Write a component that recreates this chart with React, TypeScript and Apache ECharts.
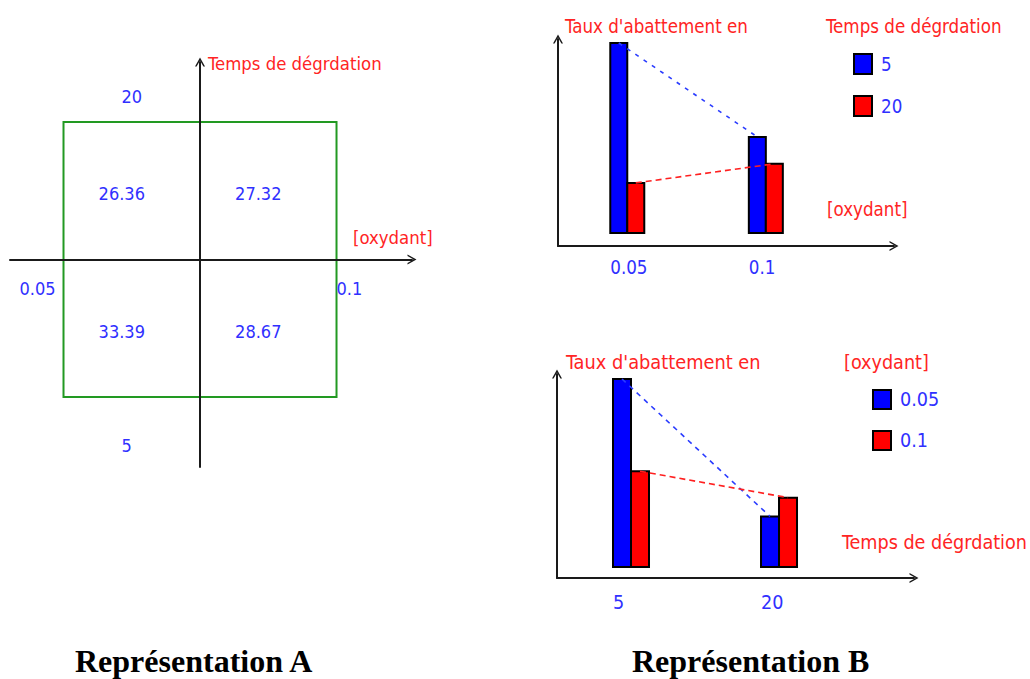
import React, { useEffect, useRef } from 'react';
import * as echarts from 'echarts';

// ---------------- data ----------------
const oxydantLevels = ['0.05', '0.1'];
const tempsLevels = ['5', '20'];
const codedLevels = [-1, 1];
// Taux d'abattement, indexed by oxydant level (0.05, 0.1)
const tauxTemps5 = [33.39, 28.67];
const tauxTemps20 = [26.36, 27.32];
// Taux d'abattement, indexed by temps level (5, 20)
const tauxOx005 = [33.39, 26.36];
const tauxOx01 = [28.67, 27.32];

const nameTemps = 'Temps de dégrdation';
const nameOx = '[oxydant]';
const nameTaux = "Taux d'abattement en";
const titleA = 'Représentation A';
const titleB = 'Représentation B';

// ---------------- styles ----------------
const FONT = '"DejaVu Sans Condensed", "DejaVu Sans", sans-serif';
const RED_TXT = '#ff2424';
const BLUE_TXT = '#3030ff';
const BAR_BLUE = '#0000ff';
const BAR_RED = '#ff0000';
const GREEN = '#229922';
const AXIS = '#1a1a1a';
const CHEV = 'path://M0,9 L5,0 L10,9 L8.4,9 L5,2.9 L1.6,9 Z';

function barSeries(name: string, values: number[], idx: number, color: string, side: number, bw: number, lift: number) {
  return {
    type: 'custom',
    name,
    xAxisIndex: idx,
    yAxisIndex: idx,
    z: 3,
    itemStyle: { color, borderColor: '#000', borderWidth: 2 },
    encode: { x: 0, y: 1 },
    data: values.map((v, i) => [1 + 2 * i, v]),
    renderItem: (params: any, api: any) => {
      const p = api.coord([api.value(0), api.value(1)]);
      const cs = params.coordSys;
      const bottom = cs.y + cs.height - lift;
      const x0 = side < 0 ? p[0] - bw : p[0];
      return {
        type: 'rect',
        shape: { x: x0, y: p[1], width: bw, height: bottom - p[1] },
        style: { fill: color, stroke: '#000', lineWidth: 2 },
      };
    },
  };
}

function dashSeries(name: string, values: number[], idx: number, color: string, side: number, bw: number, dash: number[]) {
  return {
    type: 'custom',
    name,
    xAxisIndex: idx,
    yAxisIndex: idx,
    z: 4,
    silent: true,
    encode: { x: [0, 2], y: [1, 3] },
    data: values.slice(0, -1).map((v, i) => [1 + 2 * i, v, 3 + 2 * i, values[i + 1]]),
    renderItem: (params: any, api: any) => {
      const a = api.coord([api.value(0), api.value(1)]);
      const b = api.coord([api.value(2), api.value(3)]);
      const dx = (side * bw) / 2;
      return {
        type: 'line',
        shape: { x1: a[0] + dx, y1: a[1], x2: b[0] + dx, y2: b[1] },
        style: { stroke: color, lineWidth: 1.6, lineDash: dash },
      };
    },
  };
}

function catLabelAxis(idx: number, levels: string[], max: number, bw: number, fs: number, margin: number, name: string, nameGap: number, namePad: number) {
  return {
    gridIndex: idx,
    type: 'value',
    min: 0,
    max,
    interval: 1,
    axisLine: { show: true, onZero: false, symbol: ['none', CHEV], symbolSize: [10, 9], lineStyle: { color: AXIS, width: 2 } },
    axisTick: { show: false },
    splitLine: { show: false },
    axisLabel: {
      showMinLabel: false,
      showMaxLabel: false,
      margin,
      color: BLUE_TXT,
      fontFamily: FONT,
      fontSize: fs,
      formatter: (v: number) => {
        const i = (v - 1) / 2;
        return Number.isInteger(i) && levels[i] !== undefined ? `{l|${levels[i]}}` : '';
      },
      rich: { l: { width: 2 * bw, align: 'left', color: BLUE_TXT, fontFamily: FONT, fontSize: fs } },
    },
    name,
    nameLocation: 'end',
    nameGap,
    nameTextStyle: { color: RED_TXT, fontFamily: FONT, fontSize: fs, align: 'left', verticalAlign: 'bottom', padding: [0, 0, namePad, 0] },
  };
}

function valueAxis(idx: number, min: number, max: number, fs: number, nameGap: number, padLeft: number) {
  return {
    gridIndex: idx,
    type: 'value',
    min,
    max,
    axisLine: { show: true, onZero: false, symbol: ['none', CHEV], symbolSize: [10, 9], lineStyle: { color: AXIS, width: 2 } },
    axisTick: { show: false },
    axisLabel: { show: false },
    splitLine: { show: false },
    name: nameTaux,
    nameLocation: 'end',
    nameGap,
    nameTextStyle: { color: RED_TXT, fontFamily: FONT, fontSize: fs, align: 'left', verticalAlign: 'middle', padding: [0, 0, 0, padLeft] },
  };
}

function buildOption() {
  // Représentation A : quadrant values (coded design)
  const quadData: number[][] = [];
  codedLevels.forEach((cx, i) => {
    codedLevels.forEach((cy, j) => {
      const v = j === 0 ? tauxTemps5[i] : tauxTemps20[i];
      quadData.push([cx * 0.5, cy * 0.5, v]);
    });
  });
  const levelTexts: { pos: number[]; text: string; align: string; off: number[] }[] = [];
  oxydantLevels.forEach((t, i) => {
    levelTexts.push({ pos: [codedLevels[i], 0], text: t, align: i === 0 ? 'right' : 'left', off: i === 0 ? [-8, 29] : [0, 29] });
  });
  tempsLevels.forEach((t, j) => {
    levelTexts.push({ pos: [-0.5, codedLevels[j]], text: t, align: 'center', off: j === 0 ? [-5, 48] : [0, -25] });
  });

  const txt = (fs: number) => `${fs}px ${FONT}`;

  return {
    animation: false,
    backgroundColor: '#ffffff',
    title: [
      { text: nameTemps, left: 826, top: 17, padding: 0, textStyle: { color: RED_TXT, fontFamily: FONT, fontSize: 18.6, fontWeight: 'normal' } },
      { text: nameOx, left: 844, top: 352, padding: 0, textStyle: { color: RED_TXT, fontFamily: FONT, fontSize: 19.6, fontWeight: 'normal' } },
      { text: titleA, left: 75, top: 645, padding: 0, textStyle: { color: '#000', fontFamily: '"Liberation Serif", serif', fontSize: 32, fontWeight: 'bold' } },
      { text: titleB, left: 632, top: 645, padding: 0, textStyle: { color: '#000', fontFamily: '"Liberation Serif", serif', fontSize: 32, fontWeight: 'bold' } },
    ],
    legend: [
      {
        data: ['5', '20'],
        left: 853,
        top: 53,
        orient: 'vertical',
        icon: 'rect',
        itemWidth: 18,
        itemHeight: 20,
        itemGap: 20,
        padding: 0,
        selectedMode: false,
        itemStyle: { borderColor: '#000', borderWidth: 2 },
        textStyle: { color: BLUE_TXT, fontFamily: FONT, fontSize: 18.6, padding: [0, 0, 0, 4] },
      },
      {
        data: ['0.05', '0.1'],
        left: 872,
        top: 389,
        orient: 'vertical',
        icon: 'rect',
        itemWidth: 18,
        itemHeight: 19,
        itemGap: 20,
        padding: 0,
        selectedMode: false,
        itemStyle: { borderColor: '#000', borderWidth: 2 },
        textStyle: { color: BLUE_TXT, fontFamily: FONT, fontSize: 19.6, padding: [0, 0, 0, 4] },
      },
    ],
    grid: [
      { left: 10, top: 62, width: 402, height: 405 },
      { left: 558, top: 39, width: 336, height: 207 },
      { left: 557, top: 374, width: 357, height: 204 },
    ],
    xAxis: [
      {
        gridIndex: 0,
        type: 'value',
        min: -1.392,
        max: 1.553,
        z: 5,
        axisLine: { show: true, onZero: true, symbol: ['none', CHEV], symbolSize: [10, 9], lineStyle: { color: AXIS, width: 2 } },
        axisTick: { show: false },
        axisLabel: { show: false },
        splitLine: { show: false },
        name: nameOx,
        nameLocation: 'end',
        nameGap: -59,
        nameTextStyle: { color: RED_TXT, fontFamily: FONT, fontSize: 18.4, align: 'left', verticalAlign: 'bottom', padding: [0, 0, 13, 0] },
      },
      catLabelAxis(1, oxydantLevels, 4.85, 17, 18.6, 12, nameOx, -67, 27),
      catLabelAxis(2, tempsLevels, 4.824, 18, 19.6, 14, nameTemps, -72, 26),
    ],
    yAxis: [
      {
        gridIndex: 0,
        type: 'value',
        min: -1.509,
        max: 1.436,
        z: 5,
        axisLine: { show: true, onZero: true, symbol: ['none', CHEV], symbolSize: [10, 9], lineStyle: { color: AXIS, width: 2 } },
        axisTick: { show: false },
        axisLabel: { show: false },
        splitLine: { show: false },
        name: nameTemps,
        nameLocation: 'end',
        nameGap: -1,
        nameTextStyle: { color: RED_TXT, fontFamily: FONT, fontSize: 18.4, align: 'left', verticalAlign: 'middle', padding: [0, 0, 0, 8] },
      },
      valueAxis(1, 23.19, 33.59, 18.6, 13, 7),
      valueAxis(2, 23.21, 33.646, 19.8, 12, 9),
    ],
    series: [
      // Représentation A
      {
        type: 'custom',
        name: 'domaine',
        xAxisIndex: 0,
        yAxisIndex: 0,
        z: 1,
        silent: true,
        encode: { x: [0, 2], y: [1, 3] },
        data: [[codedLevels[0], codedLevels[0], codedLevels[1], codedLevels[1]]],
        renderItem: (params: any, api: any) => {
          const a = api.coord([api.value(0), api.value(1)]);
          const b = api.coord([api.value(2), api.value(3)]);
          return {
            type: 'polygon',
            shape: { points: [[a[0], a[1]], [b[0], a[1]], [b[0], b[1]], [a[0], b[1]]] },
            style: { fill: 'none', stroke: GREEN, lineWidth: 2 },
          };
        },
      },
      {
        type: 'custom',
        name: 'valeurs',
        xAxisIndex: 0,
        yAxisIndex: 0,
        z: 6,
        silent: true,
        encode: { x: 0, y: 1 },
        data: quadData,
        renderItem: (params: any, api: any) => {
          const p = api.coord([api.value(0), api.value(1)]);
          return {
            type: 'text',
            x: p[0] - 10,
            y: p[1] + 3,
            style: { text: api.value(2).toFixed(2), fill: BLUE_TXT, font: txt(18), align: 'center', verticalAlign: 'middle' },
          };
        },
      },
      {
        type: 'custom',
        name: 'niveaux',
        xAxisIndex: 0,
        yAxisIndex: 0,
        z: 6,
        silent: true,
        encode: { x: 0, y: 1 },
        data: levelTexts.map((l) => l.pos),
        renderItem: (params: any, api: any) => {
          const l = levelTexts[params.dataIndex];
          const p = api.coord([api.value(0), api.value(1)]);
          return {
            type: 'text',
            x: p[0] + l.off[0],
            y: p[1] + l.off[1],
            style: { text: l.text, fill: BLUE_TXT, font: txt(18), align: l.align, verticalAlign: 'middle' },
          };
        },
      },
      // Représentation B (haut)
      barSeries(tempsLevels[0], tauxTemps5, 1, BAR_BLUE, -1, 17, 13),
      barSeries(tempsLevels[1], tauxTemps20, 1, BAR_RED, 1, 17, 13),
      dashSeries('ligne t5', tauxTemps5, 1, '#2a3cff', -1, 17, [4, 6]),
      dashSeries('ligne t20', tauxTemps20, 1, '#ff2020', 1, 17, [6, 4]),
      // Représentation B (bas)
      barSeries(oxydantLevels[0], tauxOx005, 2, BAR_BLUE, -1, 18, 11),
      barSeries(oxydantLevels[1], tauxOx01, 2, BAR_RED, 1, 18, 11),
      dashSeries('ligne ox005', tauxOx005, 2, '#2a3cff', -1, 18, [5, 5]),
      dashSeries('ligne ox01', tauxOx01, 2, '#ff2020', 1, 18, [6, 4]),
    ],
  };
}

export default function App() {
  const ref = useRef<HTMLDivElement>(null);
  useEffect(() => {
    document.body.style.margin = '0';
    if (!ref.current) return;
    const chart = echarts.init(ref.current, null, { renderer: 'svg' });
    chart.setOption(buildOption() as any);
    return () => chart.dispose();
  }, []);
  return <div ref={ref} style={{ width: 1030, height: 679 }} />;
}
